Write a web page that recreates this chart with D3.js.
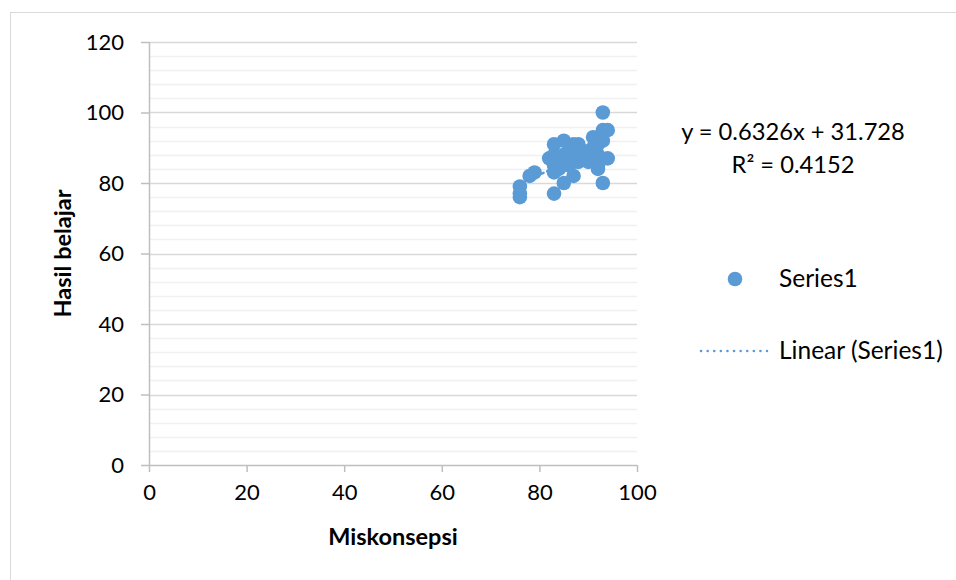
<!DOCTYPE html>
<html>
<head>
<meta charset="utf-8">
<script src="https://cdn.jsdelivr.net/npm/d3@7"></script>
<style>
  html, body { margin: 0; padding: 0; background: #fff; }
  svg { display: block; }
  text { font-family: Lato, "Open Sans", sans-serif; fill: #000; }
</style>
</head>
<body>
<svg id="chart" width="956" height="580"></svg>
<script>
// ---- data ----
const miskonsepsi = [76,76,76,78,79,82,83,83,83,83,83,84,84,85,85,85,85,86,86,86,87,87,87,87,88,88,88,89,89,90,90,91,91,91,92,92,92,92,93,93,93,93,94,94];
const hasilBelajar = [79,77,76,82,83,87,91,88,85,83,77,86,84,92,88,86,80,85,87,89,82,91,88,86,91,86,89,87,88,89,86,93,90,88,85,88,91,84,100,95,92,80,95,87];
const xTicks = [0,20,40,60,80,100];
const yTicks = [0,20,40,60,80,100,120];
const slope = 0.6326, intercept = 31.728;
const equationText = "y = 0.6326x + 31.728";
const r2Text = "R² = 0.4152";
const seriesName = "Series1";
const trendName = "Linear (Series1)";
const xTitle = "Miskonsepsi";
const yTitle = "Hasil belajar";

const svg = d3.select("#chart");
const color = "#5b9bd5";
const plot = {left: 149, right: 637, top: 42, bottom: 465};

// chart border
svg.append("rect").attr("x", 10.5).attr("y", 12.5).attr("width", 1000).attr("height", 1000)
  .attr("fill", "#fff").attr("stroke", "#d9d9d9").attr("stroke-width", 1);

const x = d3.scaleLinear().domain([0,100]).range([plot.left, plot.right]);
const y = d3.scaleLinear().domain([0,120]).range([plot.bottom, plot.top]);

// minor gridlines
const minor = d3.range(0, 121, 4).filter(v => v % 20 !== 0);
svg.append("g").selectAll("line").data(minor).join("line")
  .attr("x1", plot.left).attr("x2", plot.right)
  .attr("y1", d => Math.round(y(d)) + 0.5).attr("y2", d => Math.round(y(d)) + 0.5)
  .attr("stroke", "#f0f0f0").attr("stroke-width", 1.3);
// major gridlines
svg.append("g").selectAll("line").data(yTicks.filter(v => v > 0)).join("line")
  .attr("x1", plot.left).attr("x2", plot.right)
  .attr("y1", d => Math.round(y(d)) + 0.5).attr("y2", d => Math.round(y(d)) + 0.5)
  .attr("stroke", "#d9d9d9").attr("stroke-width", 1.3);

// axes
const xAxis = d3.axisBottom(x).tickValues(xTicks).tickSize(7).tickPadding(12);
const yAxis = d3.axisLeft(y).tickValues(yTicks).tickSize(8).tickPadding(17);
const gx = svg.append("g").attr("transform", `translate(0,${plot.bottom})`).call(xAxis);
const gy = svg.append("g").attr("transform", `translate(${plot.left},0)`).call(yAxis);
[gx, gy].forEach(g => {
  g.select(".domain").attr("stroke", "#bfbfbf").attr("stroke-width", 1.5);
  g.selectAll(".tick line").attr("stroke", "#bfbfbf").attr("stroke-width", 1.5);
  g.selectAll(".tick text").attr("font-family", "Lato, sans-serif").attr("font-size", 22).attr("fill", "#000");
});
gx.select(".domain").attr("d", `M${plot.left},0.5H${plot.right}`);
gy.select(".domain").attr("d", `M0.5,${plot.bottom}V${plot.top}`);

// trendline (hidden beneath markers)
const xMin = d3.min(miskonsepsi), xMax = d3.max(miskonsepsi);
svg.append("line")
  .attr("x1", x(xMin)).attr("y1", y(slope * xMin + intercept))
  .attr("x2", x(xMax)).attr("y2", y(slope * xMax + intercept))
  .attr("stroke", color).attr("stroke-width", 2.5).attr("stroke-dasharray", "2,4").attr("stroke-linecap", "round");

// points
const pts = miskonsepsi.map((v, i) => ({x: v, y: hasilBelajar[i]}));
svg.append("g").selectAll("circle").data(pts).join("circle")
  .attr("cx", d => x(d.x)).attr("cy", d => y(d.y)).attr("r", 7.3)
  .attr("fill", color);

// equation
svg.append("text").attr("x", 793).attr("y", 140).attr("text-anchor", "middle")
  .attr("font-size", 23.7).text(equationText);
svg.append("text").attr("x", 793).attr("y", 173).attr("text-anchor", "middle")
  .attr("font-size", 23.7).text(r2Text);

// axis titles
svg.append("text").attr("x", (plot.left + plot.right) / 2).attr("y", 545).attr("text-anchor", "middle")
  .attr("font-size", 23.5).attr("font-weight", "bold").text(xTitle);
svg.append("text").attr("transform", `translate(71,${(plot.top + plot.bottom) / 2}) rotate(-90)`)
  .attr("text-anchor", "middle").attr("font-size", 23.5).attr("font-weight", "bold").text(yTitle);

// legend
svg.append("circle").attr("cx", 735).attr("cy", 279).attr("r", 7.3).attr("fill", color);
svg.append("text").attr("x", 779).attr("y", 287).attr("font-size", 24.5).text(seriesName);
svg.append("line").attr("x1", 701).attr("x2", 767).attr("y1", 351).attr("y2", 351)
  .attr("stroke", color).attr("stroke-width", 2.5).attr("stroke-dasharray", "0.1,6.5").attr("stroke-linecap", "round");
svg.append("text").attr("x", 779).attr("y", 359).attr("font-size", 24.5).text(trendName);
</script>
</body>
</html>
